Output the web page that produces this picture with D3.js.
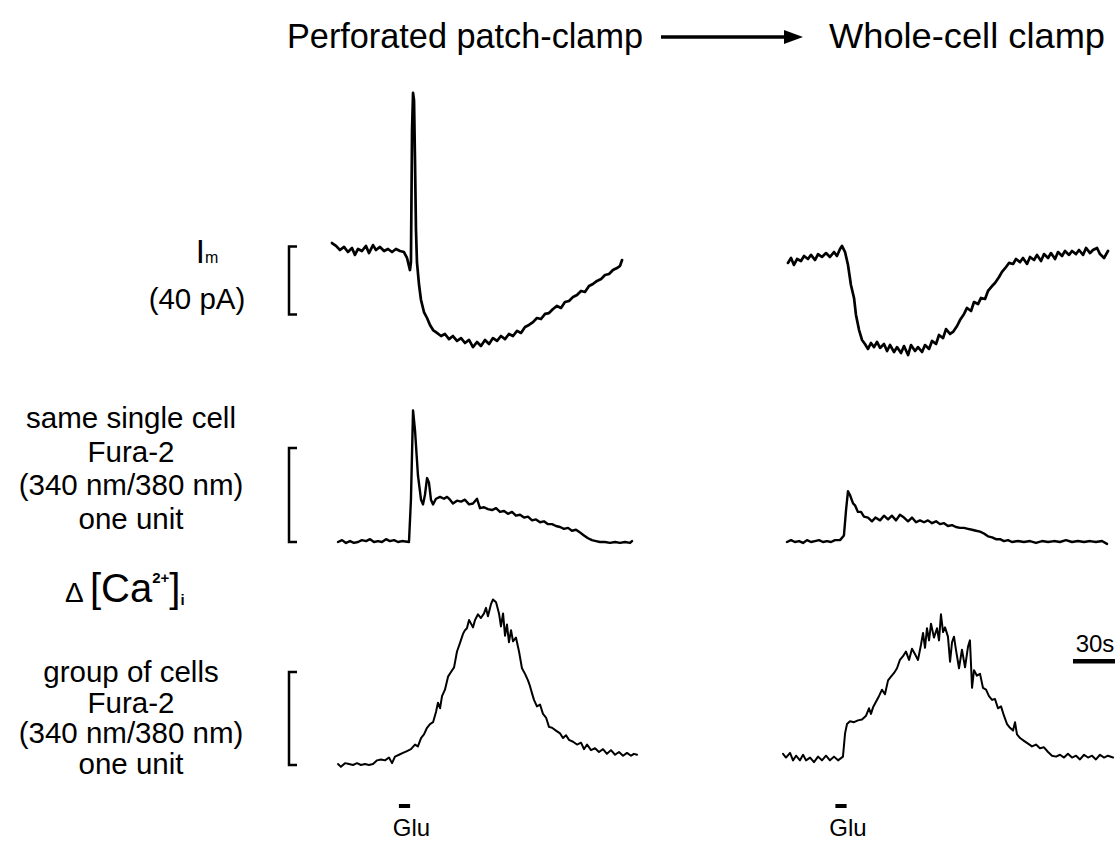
<!DOCTYPE html>
<html lang="en">
<head>
<meta charset="UTF-8">
<title>Perforated patch-clamp vs whole-cell clamp</title>
<script src="https://d3js.org/d3.v7.min.js"></script>
<style>
    body { margin: 0; background: #fff; }
    svg { display: block; font-family: "Liberation Sans", Arial, sans-serif; }
    .trace { fill: none; stroke: #000; stroke-linejoin: round; stroke-linecap: round; }
    .bracket { fill: none; stroke: #000; stroke-width: 2.5; }
</style>
</head>
<body>
<svg id="fig" width="1118" height="843"></svg>
<script>
// time in s relative to glutamate application, current in pA, ratio change in units
const imLeft = [[-51.8,4.1],[-48.9,2.4],[-46.1,0],[-43.2,1.8],[-40.4,-1.2],[-37.5,1.2],[-35.4,-2.9],[-33.2,0.6],[-30.4,-0.6],[-27.5,2.4],[-25.4,-1.8],[-22.5,2.9],[-20.4,0],[-17.5,1.8],[-14.6,-0.6],[-11.8,0.6],[-8.9,-1.2],[-6.1,0.6],[-3.2,-0.6],[-0.4,-1.2],[1.8,-4.7],[3.9,-11.8],[4.6,-7.1],[5.4,70.6],[6.1,92.4],[6.8,88.2],[7.5,52.9],[8.2,11.8],[8.9,-7.1],[10.4,-20.6],[11.8,-29.4],[13.9,-36.5],[16.1,-40],[18.2,-44.1],[20.4,-47.1],[23.2,-48.8],[26.1,-50.6],[28.9,-49.4],[31.8,-52.4],[34.6,-50.6],[37.5,-53.5],[40.4,-51.8],[43.2,-54.7],[46.1,-52.9],[48.9,-57.1],[51.8,-54.1],[54.6,-56.5],[57.5,-52.9],[60.4,-55.3],[63.2,-51.8],[66.1,-53.5],[68.9,-50.6],[71.8,-52.4],[74.6,-49.4],[77.5,-50.6],[80.4,-47.6],[83.2,-48.8],[86.1,-45.3],[88.9,-44.1],[91.8,-42.4],[94.6,-40],[97.5,-40.6],[100.4,-37.6],[103.2,-37.1],[106.1,-34.7],[108.9,-32.9],[111.8,-34.1],[114.6,-30.6],[117.5,-30],[120.4,-27.6],[123.2,-26.5],[126.1,-24.1],[128.9,-24.7],[131.8,-21.2],[134.6,-20],[137.5,-18.2],[140.4,-17.1],[143.2,-14.7],[146.1,-14.1],[148.9,-11.8],[151.8,-10.6],[153.9,-9.4],[155.4,-5.9]];

const imRight = [[-37.9,-7.6],[-35.7,-4.7],[-33.6,-8.8],[-31.4,-5.3],[-28.6,-6.5],[-26.4,-3.5],[-23.6,-5.3],[-21.4,-2.9],[-18.6,-5.9],[-16.4,-2.4],[-13.6,-4.1],[-10.7,-1.8],[-7.9,-4.1],[-5,-1.2],[-2.9,-3.5],[-0.7,0.6],[0.7,2.4],[2.9,-1.2],[5,-8.8],[7.1,-20.6],[9.3,-28.2],[10.7,-38.2],[12.9,-47.1],[15,-52.9],[17.1,-55.3],[19.3,-58.2],[21.4,-54.7],[23.6,-57.1],[25.7,-54.1],[27.9,-57.6],[30.7,-55.3],[32.9,-59.4],[35,-55.9],[37.9,-60],[40,-57.1],[42.9,-60.6],[45,-56.5],[47.9,-61.8],[50,-55.9],[52.9,-59.4],[55,-57.1],[57.9,-60],[60,-55.9],[62.9,-58.2],[65,-53.5],[67.9,-55.3],[70,-50],[72.9,-51.8],[75,-46.5],[77.9,-49.4],[80,-48.2],[82.9,-44.7],[85,-41.2],[87.9,-37.6],[90,-34.1],[92.9,-35.9],[95,-30.6],[97.9,-31.8],[100,-28.2],[102.9,-28.8],[105,-24.1],[107.9,-21.2],[110,-19.4],[112.9,-15.9],[115,-12.9],[117.9,-10],[120,-7.6],[122.9,-8.2],[125,-5.3],[127.9,-7.1],[130,-4.7],[132.9,-8.2],[135,-4.1],[137.9,-5.9],[140,-2.9],[142.9,-6.5],[145,-2.4],[147.9,-4.7],[150,-1.8],[152.9,-5.3],[155,-1.2],[157.9,-3.5],[160,-0.6],[162.9,-2.9],[165,-0.6],[167.9,-2.4],[170,0],[172.9,-2.9],[175,1.2],[177.9,-1.8],[180,0],[182.9,1.2],[185,-2.4],[187.9,-4.7],[190.7,-0.6]];

const singleLeft = [[-47.5,0],[-44.6,0.02],[-41.8,-0.01],[-38.9,0.01],[-36.1,-0.01],[-33.2,0],[-30.4,0.02],[-27.5,0.01],[-24.6,0.03],[-21.8,0],[-18.9,0.01],[-16.1,0],[-13.2,0.03],[-10.4,0.01],[-7.5,0.02],[-4.6,0],[-1.8,0.01],[3.2,0],[4.6,0.45],[6.1,1.4],[7.5,1.19],[9.6,0.71],[11.8,0.45],[13.2,0.4],[14.6,0.5],[16.1,0.68],[17.5,0.63],[18.9,0.45],[20.4,0.4],[22.5,0.46],[25.4,0.48],[28.2,0.46],[30.4,0.48],[32.5,0.45],[34.6,0.41],[37.5,0.44],[40.4,0.43],[43.2,0.45],[46.1,0.4],[48.9,0.41],[51.8,0.46],[53.9,0.36],[56.8,0.37],[59.6,0.35],[62.5,0.34],[65.4,0.36],[68.2,0.32],[71.1,0.33],[73.9,0.3],[76.8,0.32],[79.6,0.28],[82.5,0.29],[85.4,0.26],[88.2,0.27],[91.1,0.23],[93.9,0.24],[96.8,0.21],[99.6,0.22],[102.5,0.19],[105.4,0.19],[108.2,0.17],[111.1,0.16],[113.9,0.14],[116.8,0.15],[119.6,0.12],[122.5,0.13],[125.4,0.1],[128.2,0.07],[131.1,0.04],[133.9,0.02],[136.8,0.01],[139.6,0],[143.2,0],[146.8,-0.01],[150.4,0],[153.9,-0.01],[157.5,0],[161.1,-0.01],[162.5,0.01]];

const singleRight = [[-38.6,0],[-35.7,0.02],[-32.9,0],[-30,0.01],[-27.1,-0.01],[-24.3,0.02],[-21.4,0],[-18.6,0.01],[-15.7,0.02],[-12.9,0],[-10,0.01],[-7.1,0],[-4.3,0.02],[-0.7,0.02],[2.1,0.07],[3.6,0.34],[5,0.54],[6.4,0.5],[8.6,0.41],[10,0.39],[12.1,0.32],[14.3,0.32],[16.4,0.27],[19.3,0.26],[22.1,0.22],[24.6,0.26],[27.9,0.23],[30.7,0.28],[33.6,0.24],[36.4,0.28],[39.3,0.23],[42.1,0.29],[45,0.26],[47.9,0.22],[50.7,0.26],[53.6,0.21],[56.4,0.23],[59.3,0.21],[62.1,0.23],[65,0.2],[67.9,0.22],[70.7,0.19],[73.6,0.2],[76.4,0.17],[79.3,0.18],[82.1,0.16],[85,0.15],[87.9,0.15],[90.7,0.14],[93.6,0.13],[96.4,0.12],[99.3,0.11],[102.1,0.09],[105,0.06],[107.9,0.05],[110.7,0.03],[113.6,0.03],[116.4,0.01],[119.3,0.02],[122.1,0],[126.4,0.01],[130.7,0],[135,0.01],[139.3,-0.01],[143.6,0.01],[147.9,0],[152.1,0.01],[156.4,0],[160.7,0.02],[165,0],[169.3,0.01],[173.6,0],[177.9,0.01],[182.1,0],[186.4,0.01],[190,-0.02]];

const groupLeft = [[-47.5,0.01],[-45.4,-0.02],[-42.5,0.02],[-39.6,0.01],[-36.8,0],[-33.9,0.02],[-31.1,0],[-28.2,0.01],[-25.4,0],[-22.5,0.01],[-19.6,0.05],[-16.8,0.06],[-13.9,0.05],[-11.1,0.08],[-8.9,0.02],[-6.8,0.09],[-3.9,0.11],[-1.1,0.13],[1.8,0.15],[4.6,0.17],[7.5,0.22],[9.6,0.2],[11.8,0.29],[13.9,0.33],[16.1,0.4],[18.2,0.44],[20.4,0.46],[22.5,0.57],[23.9,0.67],[25.4,0.61],[26.8,0.74],[28.9,0.81],[31.1,0.95],[33.2,1],[35.4,1.05],[37.5,1.22],[39.6,1.31],[41.8,1.41],[43.2,1.45],[44.6,1.47],[46.1,1.56],[47.5,1.52],[48.9,1.48],[50.4,1.56],[52.5,1.62],[54.6,1.58],[56.8,1.63],[58.2,1.69],[59.6,1.6],[61.8,1.73],[63.2,1.78],[65.4,1.75],[67.5,1.63],[68.9,1.49],[70.4,1.63],[71.8,1.39],[73.2,1.51],[74.6,1.32],[76.1,1.45],[77.5,1.33],[79.6,1.37],[81.8,1.22],[83.9,1.04],[86.1,0.98],[88.2,0.91],[89.6,0.85],[91.1,0.77],[92.5,0.7],[94.6,0.63],[96.8,0.65],[98.9,0.55],[101.1,0.51],[103.2,0.41],[105.4,0.4],[108.2,0.37],[111.1,0.34],[113.2,0.29],[115.4,0.32],[117.5,0.27],[120.4,0.25],[123.2,0.22],[126.1,0.24],[128.2,0.17],[130.4,0.22],[133.2,0.16],[136.1,0.18],[138.9,0.14],[141.8,0.17],[144.6,0.12],[147.5,0.16],[150.4,0.11],[153.2,0.14],[156.1,0.1],[158.9,0.13],[161.8,0.1],[163.9,0.12],[166.1,0.11]];

const groupRight = [[-41.4,0.12],[-39.3,0.08],[-36.4,0.13],[-34.3,0.05],[-32.1,0.1],[-29.3,0.05],[-27.1,0.11],[-25,0.05],[-22.1,0.08],[-19.3,0.03],[-16.4,0.09],[-13.6,0.05],[-10.7,0.1],[-7.9,0.05],[-5,0.09],[-2.1,0.05],[1.4,0.09],[2.9,0.34],[4.3,0.44],[6.4,0.47],[9.3,0.46],[12.1,0.48],[15,0.49],[17.9,0.53],[20,0.61],[21.4,0.55],[22.9,0.62],[25,0.68],[27.1,0.74],[29.3,0.81],[31.4,0.76],[33.6,0.91],[35.7,0.95],[37.9,0.99],[40,1.04],[42.1,1.13],[44.3,1.17],[46.4,1.22],[48.6,1.13],[50.7,1.25],[52.9,1.19],[55,1.13],[57.1,1.29],[58.6,1.42],[60,1.26],[61.4,1.47],[62.9,1.34],[64.3,1.52],[66.4,1.37],[68.6,1.47],[70,1.34],[71.4,1.62],[72.9,1.43],[74.3,1.48],[76.4,1.38],[77.9,1.11],[79.3,1.32],[80.7,1.38],[82.1,1.24],[84.3,1.04],[86.4,1.24],[88.6,1.05],[90.7,1.27],[92.1,1.34],[93.6,0.83],[95,1.02],[97.1,0.96],[99.3,0.98],[101.4,0.83],[103.6,0.81],[105.7,0.74],[107.9,0.7],[110,0.71],[112.1,0.61],[114.3,0.63],[116.4,0.53],[118.6,0.44],[120.7,0.4],[122.9,0.37],[124.3,0.46],[125.7,0.33],[127.9,0.29],[130.7,0.26],[133.6,0.23],[136.4,0.2],[139.3,0.22],[142.1,0.18],[145,0.19],[147.9,0.14],[150.7,0.1],[153.6,0.09],[156.4,0.11],[159.3,0.08],[162.1,0.12],[165,0.08],[167.9,0.1],[170.7,0.06],[173.6,0.11],[176.4,0.08],[179.3,0.1],[182.1,0.06],[185,0.11],[187.9,0.08],[190.7,0.1],[194.3,0.08]];

const titles = ["Perforated patch-clamp", "Whole-cell clamp"];
const singleLabel = ["same single cell", "Fura-2", "(340 nm/380 nm)", "one unit"];
const groupLabel = ["group of cells", "Fura-2", "(340 nm/380 nm)", "one unit"];
const gluPulse = [-4, 4];        // s
const timeBar = [165.7, 195.7];  // 30 s
const imBar = [-38, 2];          // 40 pA
const ratioBar = [0, 1];         // one unit

const svg = d3.select("#fig");
const font = 29.5;

// one time scale per column, shared by all three rows
const xLeft = d3.scaleLinear().domain([0, 30]).range([404.5, 446.5]);
const xRight = d3.scaleLinear().domain([0, 30]).range([841, 883]);

const yIm = d3.scaleLinear().domain([-60, 100]).range([352, 80]);
const ySingle = d3.scaleLinear().domain([0, 1.5]).range([542, 401]);
const yGroup = d3.scaleLinear().domain([0, 2]).range([765, 579]);

function trace(data, x, y, width) {
    const line = d3.line().x(d => x(d[0])).y(d => y(d[1]));
    svg.append("path").attr("class", "trace")
        .attr("stroke-width", width)
        .attr("d", line(data));
}

trace(imLeft, xLeft, yIm, 2.7);
trace(imRight, xRight, yIm, 2.7);
trace(singleLeft, xLeft, ySingle, 2.4);
trace(singleRight, xRight, ySingle, 2.4);
trace(groupLeft, xLeft, yGroup, 2);
trace(groupRight, xRight, yGroup, 2);

// vertical scale brackets
function bracket(range, y) {
    const x0 = 289, x1 = 297;
    svg.append("path").attr("class", "bracket")
        .attr("d", `M${x1},${y(range[1])}H${x0}V${y(range[0])}H${x1}`);
}
bracket(imBar, yIm);
bracket(ratioBar, ySingle);
bracket(ratioBar, yGroup);

// titles and arrow
svg.append("text").attr("x", 287).attr("y", 48)
    .attr("font-size", 35).attr("textLength", 356).attr("lengthAdjust", "spacingAndGlyphs")
    .text(titles[0]);
svg.append("text").attr("x", 829).attr("y", 48)
    .attr("font-size", 35).attr("textLength", 276).attr("lengthAdjust", "spacingAndGlyphs")
    .text(titles[1]);
svg.append("line").attr("x1", 661).attr("x2", 788).attr("y1", 37).attr("y2", 37)
    .attr("stroke", "#000").attr("stroke-width", 3.5);
svg.append("path").attr("d", "M784,30L803,37L784,44Z").attr("fill", "#000");

// left side labels
const im = svg.append("text").attr("x", 207).attr("y", 263)
    .attr("text-anchor", "middle").attr("font-size", 33);
im.append("tspan").text("I");
im.append("tspan").attr("font-size", 16).text("m");
svg.append("text").attr("x", 197).attr("y", 309)
    .attr("text-anchor", "middle").attr("font-size", font).text("(40 pA)");

function block(lines, y0, step) {
    svg.append("g").selectAll("text").data(lines).join("text")
        .attr("x", 131).attr("y", (d, i) => y0 + i * step)
        .attr("text-anchor", "middle").attr("font-size", font)
        .text(d => d);
}
block(singleLabel, 428, 33.5);
block(groupLabel, 682, 30.5);

const ca = svg.append("text").attr("x", 65).attr("y", 602).attr("font-size", 40);
ca.append("tspan").attr("font-size", 28).text("\u0394 ");
ca.append("tspan").text("[Ca");
ca.append("tspan").attr("font-size", 15).attr("font-weight", "bold").attr("dy", -19).text("2+");
ca.append("tspan").attr("dy", 19).text("]");
ca.append("tspan").attr("font-size", 15).attr("font-weight", "bold").attr("dy", 3).text("i");

// glutamate application marks
[xLeft, xRight].forEach(x => {
    svg.append("rect").attr("x", x(gluPulse[0])).attr("y", 804)
        .attr("width", x(gluPulse[1]) - x(gluPulse[0])).attr("height", 4).attr("fill", "#000");
    svg.append("text").attr("x", x(0) + 7).attr("y", 836)
        .attr("text-anchor", "middle").attr("font-size", 24).text("Glu");
});

// 30 s time bar
svg.append("rect").attr("x", xRight(timeBar[0])).attr("y", 659)
    .attr("width", xRight(timeBar[1]) - xRight(timeBar[0])).attr("height", 4.5).attr("fill", "#000");
svg.append("text").attr("x", (xRight(timeBar[0]) + xRight(timeBar[1])) / 2 + 1).attr("y", 652)
    .attr("text-anchor", "middle").attr("font-size", 24).text("30s");
</script>
</body>
</html>
